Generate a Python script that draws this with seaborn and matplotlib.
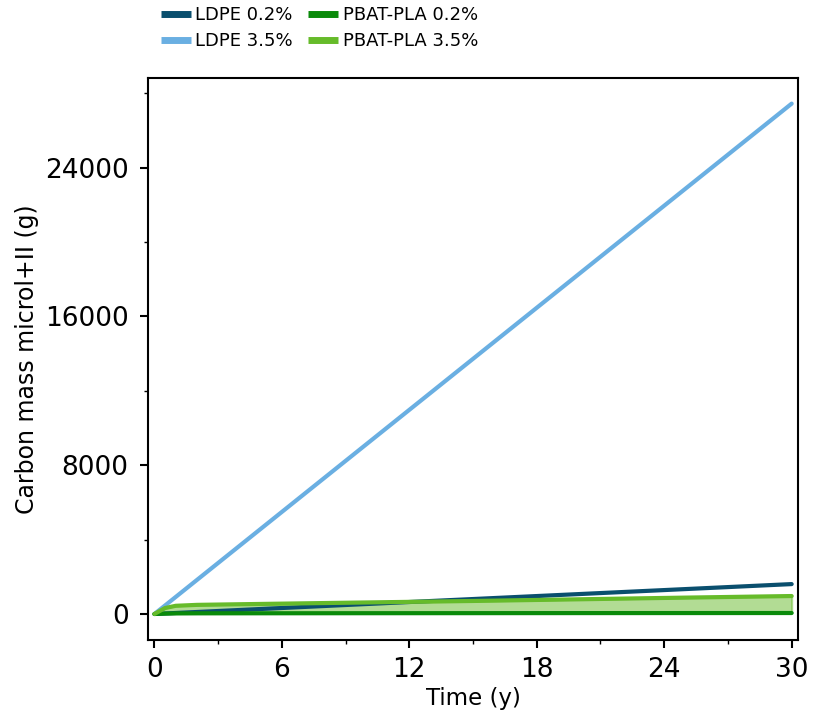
import numpy as np
import pandas as pd
import seaborn as sns
import matplotlib.pyplot as plt
from matplotlib.ticker import MultipleLocator

# ─── DATA ────────────────────────────────────────────
years       = [0, 0.5, 1, 2, 5, 10, 15, 20, 25, 30]
ldpe_02     = [0, 27, 54, 107, 268, 536, 804, 1071, 1339, 1607]
ldpe_35     = [0, 457, 914, 1829, 4572, 9145, 13717, 18290, 22862, 27434]
pbat_02     = [0, 20, 30, 35, 38, 42, 45, 48, 50, 52]
pbat_35     = [0, 320, 440, 490, 540, 620, 700, 790, 880, 965]

labels = ["LDPE 0.2%", "LDPE 3.5%", "PBAT-PLA 0.2%", "PBAT-PLA 3.5%"]
colors = ["#0a4f6e", "#6aafe2", "#0a8a0a", "#66bb2a"]
# ──────────────────────────────────────────────────────

df = pd.DataFrame({
    "Time": years * 4,
    "mass": ldpe_02 + ldpe_35 + pbat_02 + pbat_35,
    "series": sum([[lab] * len(years) for lab in labels], []),
})

sns.set_style("ticks", {"axes.edgecolor": "black", "text.color": "black",
                        "axes.labelcolor": "black", "xtick.color": "black",
                        "ytick.color": "black"})
plt.rcParams['font.family'] = ['DejaVu Sans']

fig = plt.figure(figsize=(8.18, 7.11), dpi=100)
ax = fig.add_axes([0.181, 0.100, 0.7946, 0.790])

ax.fill_between(years, pbat_02, pbat_35, color="#66bb2a", alpha=0.5, lw=1.5)

sns.lineplot(data=df, x="Time", y="mass", hue="series", hue_order=labels,
             palette=colors, lw=3, ax=ax, legend=False)

for lab, c in zip(labels, colors):
    ax.plot([], [], color=c, lw=5, label=lab, solid_capstyle="butt")

ax.set_xlim(-0.3, 30.3)
ax.set_ylim(-1393, 28800)
ax.xaxis.set_major_locator(MultipleLocator(6))
ax.xaxis.set_minor_locator(MultipleLocator(3))
ax.yaxis.set_major_locator(MultipleLocator(8000))
ax.yaxis.set_minor_locator(MultipleLocator(4000))
ax.tick_params(which="major", labelsize=19, length=6, width=1.5)
ax.tick_params(axis="x", which="major", pad=6)
ax.tick_params(axis="y", which="major", pad=8)
ax.tick_params(which="minor", length=3, width=1)
for sp in ax.spines.values():
    sp.set_linewidth(1.5)

ax.set_xlabel("Time (y)", fontsize=16.5, labelpad=3)
ax.set_ylabel("Carbon mass microl+II (g)", fontsize=17, labelpad=4)

fig.legend(loc="upper left", bbox_to_anchor=(0.177, 1.014), ncol=2,
           frameon=False, fontsize=13, handlelength=1.65,
           columnspacing=0.85, handletextpad=0.25, labelspacing=0.45)

fig.savefig("out.png", dpi=100)
